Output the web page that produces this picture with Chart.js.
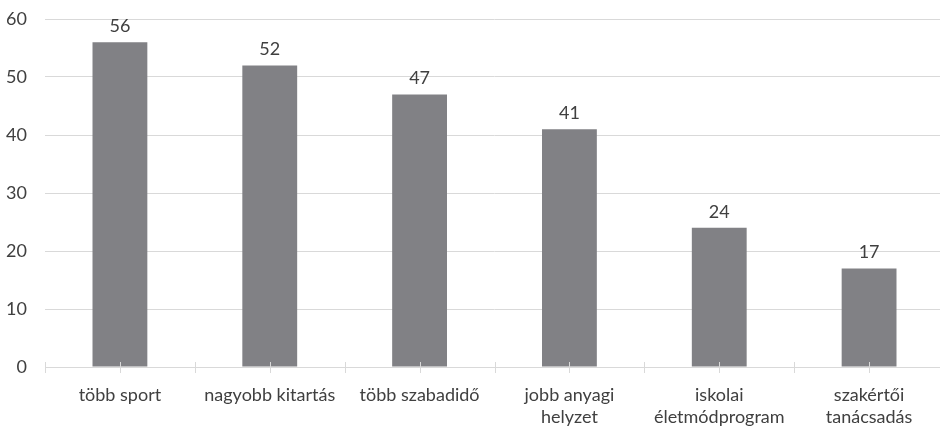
<!DOCTYPE html>
<html>
<head>
<meta charset="utf-8">
<script src="https://cdn.jsdelivr.net/npm/chart.js@4.4.0/dist/chart.umd.min.js"></script>
<style>
  html, body { margin: 0; padding: 0; background: #fff; overflow: hidden; }
  #wrap { width: 944px; height: 426px; }
</style>
</head>
<body>
<div id="wrap"><canvas id="chart"></canvas></div>
<script>
  // categories and values
  const categories = [
    "több sport",
    "nagyobb kitartás",
    "több szabadidő",
    ["jobb anyagi", "helyzet"],
    ["iskolai", "életmódprogram"],
    ["szakértői", "tanácsadás"]
  ];
  const values = [56, 52, 47, 41, 24, 17];
  const yTicks = [0, 10, 20, 30, 40, 50, 60];

  const FONT = "Lato, 'Open Sans', sans-serif";
  const TEXT = "#404040";
  const GRID = "#d9d9d9";

  // value labels above each bar
  const valueLabels = {
    id: "valueLabels",
    afterDatasetsDraw(chart) {
      const ctx = chart.ctx;
      const meta = chart.getDatasetMeta(0);
      ctx.save();
      ctx.font = "18px " + FONT;
      ctx.fillStyle = TEXT;
      ctx.textAlign = "center";
      ctx.textBaseline = "bottom";
      meta.data.forEach((bar, i) => {
        ctx.fillText(String(values[i]), bar.x, bar.y - 7);
      });
      ctx.restore();
    }
  };

  // small tick marks across the axis line, at category edges and centres
  const axisTicks = {
    id: "axisTicks",
    afterDatasetsDraw(chart) {
      const ctx = chart.ctx;
      const x = chart.scales.x;
      const y0 = chart.scales.y.getPixelForValue(0);
      const step = x.getPixelForValue(1) - x.getPixelForValue(0);
      ctx.save();
      ctx.strokeStyle = GRID;
      ctx.lineWidth = 1;
      ctx.beginPath();
      for (let i = 0; i < categories.length; i++) {
        const c = x.getPixelForValue(i);
        [c - step / 2, c].forEach((px) => {
          const p = Math.round(px) + 0.5;
          ctx.moveTo(p, y0 - 5);
          ctx.lineTo(p, y0 + 6);
        });
      }
      ctx.stroke();
      ctx.restore();
    }
  };

  new Chart(document.getElementById("chart"), {
    type: "bar",
    data: {
      labels: categories,
      datasets: [{
        data: values,
        backgroundColor: "#818185",
        barPercentage: 0.366,
        categoryPercentage: 1
      }]
    },
    options: {
      responsive: true,
      maintainAspectRatio: false,
      animation: false,
      layout: { padding: { top: 0, right: 0, bottom: 0, left: 6 } },
      plugins: {
        legend: { display: false },
        tooltip: { enabled: false }
      },
      scales: {
        x: {
          offset: true,
          grid: { display: false },
          border: { display: true, color: GRID, width: 1 },
          afterFit(axis) {
            axis.height = 59;
            axis.paddingLeft = 0;
            axis.paddingRight = 0;
          },
          ticks: {
            color: TEXT,
            font: { family: FONT, size: 18, lineHeight: 1.18 },
            padding: 10,
            maxRotation: 0,
            autoSkip: false
          }
        },
        y: {
          min: 0,
          max: 60,
          afterBuildTicks(axis) {
            axis.ticks = yTicks.map((v) => ({ value: v }));
          },
          afterFit(axis) {
            axis.width = 39;
            axis.paddingTop = 19;
            axis.paddingBottom = 0;
          },
          grid: { color: GRID, drawTicks: false },
          border: { display: false },
          ticks: {
            color: TEXT,
            font: { family: FONT, size: 18 },
            padding: 18
          }
        }
      }
    },
    plugins: [valueLabels, axisTicks]
  });
</script>
</body>
</html>
